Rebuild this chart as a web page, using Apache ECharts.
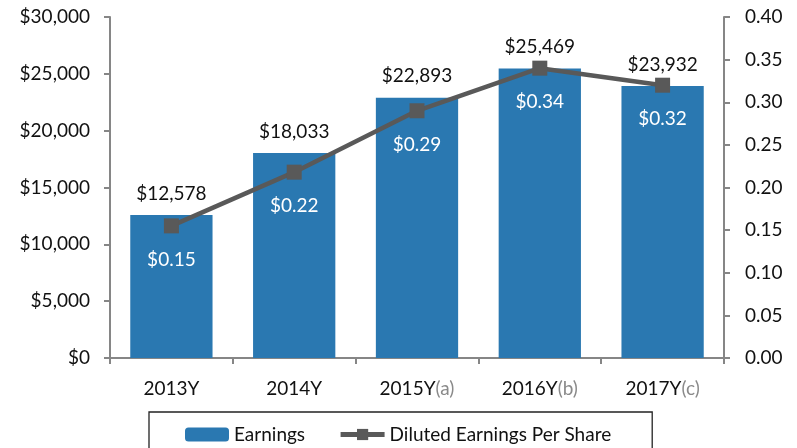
<!DOCTYPE html>
<html>
<head>
<meta charset="utf-8">
<script src="https://cdn.jsdelivr.net/npm/echarts@6/dist/echarts.min.js"></script>
<style>html,body{margin:0;padding:0;background:#fff}#c{width:797px;height:448px}</style>
</head>
<body>
<div id="c"></div>
<script>
var years = ['2013Y', '2014Y', '2015Y', '2016Y', '2017Y'];
var notes = ['', '', '(a)', '(b)', '(c)'];
var earnings = [12578, 18033, 22893, 25469, 23932];
var eps = [0.155, 0.218, 0.29, 0.34, 0.32];
var leftTicks = { min: 0, max: 30000, interval: 5000 };
var rightTicks = { min: 0, max: 0.40, interval: 0.05 };

var FONT = 'Lato';
var FS = 19;
var chart = echarts.init(document.getElementById('c'), null, { renderer: 'canvas' });
var cats = years.map(function (y, i) { return y + '|' + notes[i]; });

chart.setOption({
  animation: false,
  textStyle: { fontFamily: FONT },
  grid: { left: 110, right: 73, top: 17, bottom: 90 },
  legend: {
    left: 149, top: 412,
    padding: [13, 41, 20, 36],
    borderColor: '#222', borderWidth: 1.3,
    itemWidth: 44, itemHeight: 14, itemGap: 33,
    lineStyle: { width: 5, color: '#595959' },
    textStyle: { fontFamily: FONT, fontSize: 19, color: '#111' },
    data: ['Earnings', 'Diluted Earnings Per Share']
  },
  xAxis: {
    type: 'category', data: cats,
    axisLine: { lineStyle: { color: '#868686', width: 2 } },
    axisTick: { show: true, length: 6, lineStyle: { color: '#868686', width: 2 } },
    axisLabel: {
      margin: 21,
      formatter: function (v) {
        var p = v.split('|');
        return '{y|' + p[0] + '}' + (p[1] ? '{n|' + p[1] + '}' : '');
      },
      rich: {
        y: { fontFamily: FONT, fontSize: FS, color: '#111' },
        n: { fontFamily: FONT, fontSize: FS, color: '#8a8a8a' }
      }
    }
  },
  yAxis: [
    {
      type: 'value', min: leftTicks.min, max: leftTicks.max, interval: leftTicks.interval,
      position: 'left',
      splitLine: { show: false },
      axisLine: { show: true, lineStyle: { color: '#868686', width: 2 } },
      axisTick: { show: true, length: 6, lineStyle: { color: '#868686', width: 2 } },
      axisLabel: {
        margin: 20, fontSize: FS, color: '#111', fontFamily: FONT,
        formatter: function (v) { return '$' + v.toLocaleString('en-US'); }
      }
    },
    {
      type: 'value', min: rightTicks.min, max: rightTicks.max, interval: rightTicks.interval,
      position: 'right',
      splitLine: { show: false },
      axisLine: { show: true, lineStyle: { color: '#868686', width: 2 } },
      axisTick: { show: true, length: 6, lineStyle: { color: '#868686', width: 2 } },
      axisLabel: {
        margin: 21, fontSize: FS, color: '#111', fontFamily: FONT,
        formatter: function (v) { return v.toFixed(2); }
      }
    }
  ],
  series: [
    {
      name: 'Earnings', type: 'bar', data: earnings, barWidth: '67%',
      itemStyle: { color: '#2a78b1' },
      label: {
        show: true, position: 'top', distance: 12,
        fontFamily: FONT, fontSize: FS, color: '#111',
        formatter: function (p) { return '$' + p.value.toLocaleString('en-US'); }
      }
    },
    {
      name: 'Diluted Earnings Per Share', type: 'line', yAxisIndex: 1, data: eps,
      symbol: 'rect', symbolSize: 15,
      lineStyle: { color: '#595959', width: 4.5 },
      itemStyle: { color: '#595959' },
      label: {
        show: true, position: 'bottom', distance: 17,
        fontFamily: FONT, fontSize: FS, color: '#ffffff',
        formatter: function (p) { return '$' + p.value.toFixed(2); }
      }
    }
  ]
});
</script>
</body>
</html>
